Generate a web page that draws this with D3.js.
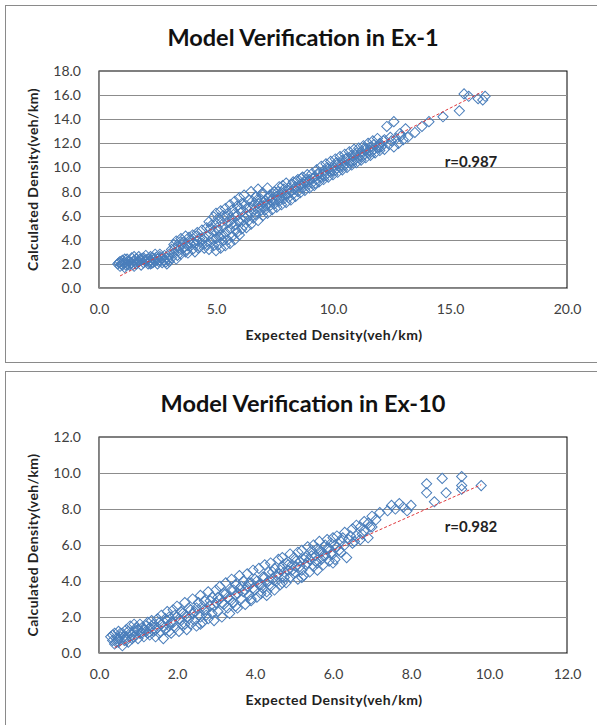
<!DOCTYPE html>
<html>
<head>
<meta charset="utf-8">
<script src="https://cdn.jsdelivr.net/npm/d3@7"></script>
<style>
  body { margin: 0; background: #fff; }
  svg { display: block; }
</style>
</head>
<body>
<svg id="chart" width="597" height="725"></svg>
<script>
const WIDTH = 597;
const HEIGHT = 725;

// chart texts
const titles = ['Model Verification in Ex-1', 'Model Verification in Ex-10'];
const rLabels = ['r=0.987', 'r=0.982'];
const xTitle = 'Expected Density(veh/km)';
const yTitle = 'Calculated Density(veh/km)';

// axis ticks
const ex1XTicks = [0, 5, 10, 15, 20];
const ex1YTicks = [0, 2, 4, 6, 8, 10, 12, 14, 16, 18];
const ex10XTicks = [0, 2, 4, 6, 8, 10, 12];
const ex10YTicks = [0, 2, 4, 6, 8, 10, 12];

// trend lines
const ex1Trend = [[0.9, 1.0], [16.4, 16.3]];
const ex10Trend = [[0.4, 0.3], [9.8, 9.35]];

// scatter points [expected, calculated]
const ex1Points = [
  [0.8,2.0],[0.9,1.8],[0.9,2.2],[1.0,1.9],[1.0,2.3],[1.1,2.1],[1.1,1.7],[1.2,2.0],[1.2,2.4],[1.3,1.9],
  [1.3,2.2],[1.4,2.1],[1.4,2.5],[1.5,1.8],[1.5,2.3],[1.6,2.0],[1.6,2.4],[1.7,2.2],[1.7,2.6],[1.8,1.9],
  [1.8,2.3],[1.9,2.1],[1.9,2.5],[2.0,2.2],[2.0,2.7],[2.1,2.0],[2.1,2.4],[2.2,2.3],[2.2,2.6],[2.3,2.1],
  [2.3,2.5],[2.4,2.2],[2.4,2.8],[2.5,2.4],[2.5,2.0],[2.6,2.6],[2.6,2.3],[2.7,2.5],[2.7,2.1],[2.8,2.7],
  [2.8,2.3],[2.9,2.5],[2.9,2.0],[3.0,2.2],[3.0,2.8],[1.05,2.05],[1.25,2.25],[1.45,1.95],[1.65,2.15],[1.85,2.45],
  [2.05,2.35],[2.25,2.05],[2.45,2.55],[2.65,2.45],[2.85,2.15],
  [0.85,2.1],[0.95,2.0],[1.15,1.9],[1.35,2.0],[1.55,2.1],[1.75,2.4],[1.95,2.3],[2.15,2.2],[2.35,2.4],[2.55,2.2],
  [2.75,2.3],[2.95,2.4],[1.1,2.4],[1.5,2.6],[2.2,2.0],[2.6,2.8],
  [3.1,2.5],[3.1,3.2],[3.2,2.9],[3.2,3.6],[3.3,2.4],[3.3,3.9],[3.4,3.1],[3.4,3.5],[3.5,2.8],[3.5,4.1],
  [3.6,3.3],[3.6,3.8],[3.7,3.0],[3.7,4.3],[3.8,3.5],[3.8,2.9],[3.9,3.7],[3.9,4.0],[4.0,3.2],[4.0,4.4],
  [4.1,3.6],[4.1,3.0],[4.2,3.9],[4.2,4.6],[4.3,3.4],[4.3,4.1],[4.4,3.7],[4.4,4.8],[4.5,3.3],[4.5,4.2],
  [3.25,3.3],[3.45,3.8],[3.65,3.4],[3.85,4.2],[4.05,3.8],[4.25,3.3],[4.45,4.0],[3.35,2.7],[3.75,3.2],[4.15,4.3],
  [4.6,3.6],[4.6,5.0],[4.7,3.2],[4.7,4.4],[4.7,5.5],[4.8,3.8],[4.8,5.2],[4.9,3.5],[4.9,4.7],[4.9,5.9],
  [5.0,3.1],[5.0,4.1],[5.0,5.4],[5.0,6.2],[5.1,3.6],[5.1,4.8],[5.1,5.8],[5.2,3.3],[5.2,4.4],[5.2,6.4],
  [5.3,3.9],[5.3,5.1],[5.3,6.0],[5.4,3.5],[5.4,4.6],[5.4,6.6],[5.5,4.0],[5.5,5.4],[5.5,6.2],[5.6,3.7],
  [5.6,4.9],[5.6,6.9],[5.7,4.3],[5.7,5.7],[5.7,6.5],[5.8,4.0],[5.8,5.2],[5.8,7.2],[5.9,4.6],[5.9,6.0],
  [5.9,6.8],[6.0,4.4],[6.0,5.5],[6.0,7.5],[6.1,4.9],[6.1,6.3],[6.1,7.0],[6.2,5.2],[6.2,5.9],[6.2,7.7],
  [6.3,5.0],[6.3,6.6],[6.4,5.6],[6.4,7.3],[6.5,5.3],[6.5,6.2],[6.5,8.0],
  [4.75,4.9],[4.85,4.1],[5.05,5.0],[5.15,4.2],[5.25,5.5],[5.35,4.3],[5.45,5.9],[5.65,5.3],[5.75,6.1],[5.85,4.8],
  [5.95,5.6],[6.05,6.6],[6.15,5.6],[6.25,6.9],[6.35,6.0],[6.45,6.7],
  [6.6,5.8],[6.6,6.9],[6.7,6.1],[6.7,7.6],[6.8,5.6],[6.8,7.0],[6.8,8.2],[6.9,6.4],[6.9,7.4],[7.0,6.0],
  [7.0,6.8],[7.0,7.9],[7.1,6.5],[7.1,7.3],[7.2,6.2],[7.2,7.0],[7.2,8.3],[7.3,6.8],[7.3,7.7],[7.4,6.5],
  [7.4,7.4],[7.5,7.0],[7.5,8.0],[7.6,6.7],[7.6,7.6],[7.7,7.2],[7.7,8.4],[7.8,6.9],[7.8,7.9],[7.9,7.4],
  [7.9,8.2],[8.0,7.1],[8.0,7.8],[8.0,8.7],[8.1,7.5],[8.1,8.3],[8.2,7.3],[8.2,8.0],[8.3,7.8],[8.3,8.8],
  [8.4,7.6],[8.4,8.4],[8.5,8.0],[8.5,9.0],[8.6,7.9],[8.6,8.6],[8.7,8.3],[8.7,9.2],[8.8,8.1],[8.8,8.8],
  [8.9,8.5],[8.9,9.4],[9.0,8.3],[9.0,9.0],
  [6.55,7.2],[6.65,6.5],[6.75,7.3],[6.85,6.7],[6.95,7.8],[7.05,7.1],[7.15,6.8],[7.25,7.5],[7.35,7.2],[7.45,7.8],
  [7.55,7.3],[7.65,8.0],[7.75,7.5],[7.85,8.5],[7.95,7.7],[8.15,7.9],[8.25,8.6],[8.35,8.2],[8.45,8.9],[8.55,8.4],
  [8.65,9.1],[8.75,8.6],[8.85,9.0],[8.95,8.8],
  [9.1,8.7],[9.1,9.5],[9.2,8.5],[9.2,9.2],[9.3,9.0],[9.3,9.8],[9.4,8.8],[9.4,9.5],[9.5,9.2],[9.5,10.1],
  [9.6,9.0],[9.6,9.7],[9.7,9.4],[9.7,10.3],[9.8,9.2],[9.8,9.9],[9.9,9.6],[9.9,10.5],[10.0,9.4],[10.0,10.1],
  [10.1,9.8],[10.1,10.7],[10.2,9.6],[10.2,10.3],[10.3,10.0],[10.3,10.9],[10.4,9.8],[10.4,10.6],[10.5,10.2],[10.5,11.1],
  [10.6,10.0],[10.6,10.8],[10.7,10.4],[10.7,11.3],[10.8,10.2],[10.8,11.0],[10.9,10.6],[10.9,11.5],[11.0,10.4],[11.0,11.2],
  [9.15,9.1],[9.35,9.5],[9.55,9.4],[9.75,10.0],[9.95,9.8],[10.15,10.4],[10.35,10.2],[10.55,10.7],[10.75,10.5],[10.95,11.1],
  [9.25,8.7],[9.65,9.3],[10.05,9.7],[10.45,10.1],[10.85,10.5],
  [11.1,10.8],[11.1,11.6],[11.2,10.6],[11.2,11.3],[11.3,11.0],[11.3,11.8],[11.4,10.8],[11.4,11.5],[11.5,11.2],[11.5,12.0],
  [11.6,11.0],[11.6,11.7],[11.7,11.4],[11.7,12.2],[11.8,11.2],[11.9,11.6],[11.9,12.4],[12.0,11.4],[12.0,12.0],[12.1,11.8],
  [12.2,11.5],[12.2,12.3],[12.3,13.4],[12.4,11.9],[12.5,12.2],[12.6,13.8],[12.6,11.7],[12.7,12.4],[12.8,12.0],[12.9,12.6],
  [13.0,12.3],[13.1,13.2],[13.2,12.5],
  [11.15,11.0],[11.35,11.6],[11.55,11.4],[11.75,11.9],[11.95,11.7],[12.15,12.2],[11.25,10.9],[11.65,11.3],[12.05,11.7],[12.45,12.5],
  [12.85,12.8],
  [13.5,12.9],[13.8,13.4],[14.1,13.8],[14.7,14.2],[15.4,14.7],[15.6,16.1],[15.8,15.9],[16.2,15.7],[16.4,15.6],[16.5,15.9]
];

const ex10Points = [
  [0.3,0.9],[0.35,0.7],[0.4,1.1],[0.4,0.5],[0.45,0.8],[0.5,1.2],[0.5,0.6],[0.55,0.9],[0.6,1.1],[0.6,0.4],
  [0.65,0.7],[0.7,1.3],[0.7,0.9],[0.75,0.6],[0.8,1.1],[0.8,1.5],[0.85,0.8],[0.9,1.2],[0.9,1.6],[0.95,1.0],
  [1.0,1.3],[1.0,0.8],[1.05,1.6],[1.1,1.1],[1.1,1.4],[1.15,0.9],[1.2,1.5],[1.2,1.2],[1.25,1.7],[1.3,1.0],
  [1.3,1.4],[1.35,1.8],[1.4,1.2],[1.4,1.6],[1.45,0.9],[1.5,1.4],[1.5,1.9],[1.55,1.1],
  [0.35,1.0],[0.45,0.6],[0.55,1.1],[0.65,0.9],[0.75,1.2],[0.85,1.0],[0.95,1.4],[1.05,1.1],[1.15,1.3],[1.25,1.1],
  [1.35,1.5],[1.45,1.3],[1.55,1.7],[0.5,0.8],[0.7,0.7],[0.9,0.9],
  [1.6,1.6],[1.6,2.1],[1.65,0.8],[1.7,1.3],[1.7,1.9],[1.75,2.3],[1.8,1.5],[1.8,2.0],[1.85,1.1],[1.9,1.7],
  [1.9,2.4],[1.95,1.4],[2.0,2.0],[2.0,2.6],[2.05,1.2],[2.1,1.8],[2.1,2.3],[2.15,1.5],[2.2,2.1],[2.2,2.8],
  [2.25,1.3],[2.3,1.9],[2.3,2.5],[2.35,1.6],[2.4,2.2],[2.4,3.0],[2.45,1.8],[2.5,2.5],[2.5,1.5],[2.55,2.8],
  [2.6,2.0],[2.6,3.2],[2.65,1.7],[2.7,2.4],[2.7,2.9],[2.75,2.1],[2.8,3.4],[2.8,1.9],[2.85,2.6],[2.9,3.1],
  [2.9,2.2],[2.95,1.8],[3.0,2.8],[3.0,3.5],
  [1.65,1.5],[1.75,1.8],[1.85,1.7],[1.95,2.1],[2.05,1.9],[2.15,2.2],[2.25,2.0],[2.35,2.4],[2.45,2.3],[2.55,2.1],
  [2.65,2.6],[2.75,2.4],[2.85,2.9],[2.95,2.6],[1.8,1.2],[2.2,1.6],[2.6,1.6],
  [3.05,2.3],[3.1,3.0],[3.1,3.7],[3.15,2.0],[3.2,2.7],[3.2,3.3],[3.25,3.9],[3.3,2.5],[3.3,3.1],[3.35,2.2],
  [3.4,3.5],[3.4,4.1],[3.45,2.8],[3.5,3.2],[3.5,3.8],[3.55,2.5],[3.6,3.6],[3.6,4.3],[3.65,3.0],[3.7,3.4],
  [3.7,4.0],[3.75,2.7],[3.8,3.7],[3.8,4.4],[3.85,3.2],[3.9,3.9],[3.9,2.9],[3.95,4.6],[4.0,3.5],[4.0,4.1],
  [4.05,3.1],[4.1,3.8],[4.1,4.7],[4.15,3.3],[4.2,4.2],[4.2,3.6],[4.25,4.9],[4.3,3.9],[4.3,3.2],[4.35,4.5],
  [4.4,3.7],[4.4,5.0],[4.45,4.1],[4.5,3.5],[4.5,4.7],[4.55,4.0],[4.6,5.2],[4.6,4.4],[4.65,3.8],[4.7,4.8],
  [4.7,5.3],[4.75,4.2],[4.8,3.9],[4.8,5.0],[4.85,4.6],[4.9,5.5],[4.9,4.2],[4.95,4.9],[5.0,4.4],[5.0,5.3],
  [3.05,3.1],[3.15,2.8],[3.25,3.3],[3.35,3.0],[3.45,3.5],[3.55,3.3],[3.65,3.7],[3.75,3.5],[3.85,3.9],[3.95,3.6],
  [4.05,4.0],[4.15,3.8],[4.25,4.2],[4.35,4.0],[4.45,4.5],[4.55,4.3],[4.65,4.6],[4.75,4.5],[4.85,4.9],[4.95,4.6],
  [3.5,2.6],[3.9,3.0],[4.3,3.4],[4.7,3.9],
  [5.05,4.8],[5.1,5.6],[5.1,4.1],[5.15,5.1],[5.2,4.6],[5.2,5.7],[5.25,4.3],[5.3,5.3],[5.3,4.9],[5.35,5.9],
  [5.4,4.5],[5.4,5.2],[5.45,5.7],[5.5,4.8],[5.5,6.0],[5.55,5.4],[5.6,5.0],[5.6,5.8],[5.65,6.2],[5.7,5.2],
  [5.7,5.6],[5.75,4.9],[5.8,6.0],[5.8,5.4],[5.85,6.3],[5.9,5.1],[5.9,5.8],[5.95,6.1],[6.0,5.5],[6.0,6.4],
  [6.05,5.2],[6.1,5.9],[6.1,6.5],[6.2,5.6],[6.2,6.2],[6.3,6.0],[6.3,6.7],[6.35,5.3],[6.4,6.3],[6.5,6.1],
  [6.5,6.9],[6.6,6.5],[6.6,7.1],[6.7,6.3],[6.7,7.0],[6.8,6.8],[6.8,7.3],[6.9,6.4],[6.9,7.2],[7.0,7.0],
  [7.0,7.6],[7.1,7.4],[7.2,7.8],
  [5.05,5.1],[5.15,4.8],[5.25,5.2],[5.35,5.0],[5.45,5.4],[5.55,5.1],[5.65,5.6],[5.75,5.4],[5.85,5.8],[5.95,5.5],
  [6.05,6.0],[6.15,5.7],[6.25,6.4],[6.45,6.5],[6.55,6.2],[6.75,6.6],[6.95,7.0],[5.2,4.2],[5.6,4.6],[6.0,5.0],
  [7.4,7.9],[7.5,8.2],[7.6,8.0],[7.7,8.3],[7.8,8.1],[7.9,7.9],[8.0,8.2],[8.4,9.4],[8.4,8.9],[8.6,8.4],
  [8.8,9.7],[8.9,8.9],[9.3,9.8],[9.3,9.3],[9.3,9.1],[9.8,9.3]
];

const COLOR_POINT = '#4a7ebb';
const COLOR_TREND = '#e0393e';
const COLOR_GRID = '#8c8c8c';
const COLOR_TEXT = '#404040';
const FONT = 'Lato, "Open Sans", sans-serif';

const svg = d3.select('#chart');

function drawPanel(opt) {
    const g = svg.append('g');

    // panel frame
    g.append('rect')
        .attr('x', 5.5)
        .attr('y', opt.top + 0.5)
        .attr('width', 620)
        .attr('height', opt.panelHeight)
        .attr('fill', '#fff')
        .attr('stroke', '#8a8a8a');

    const x = d3.scaleLinear().domain(opt.xDomain).range([99, 567]);
    const y = d3.scaleLinear().domain(opt.yDomain).range([opt.plotBottom, opt.plotTop]);

    // title
    g.append('text')
        .text(opt.title)
        .attr('x', 303)
        .attr('y', opt.top + 41)
        .attr('text-anchor', 'middle')
        .attr('font-family', FONT)
        .attr('font-weight', 'bold')
        .attr('font-size', 23.5)
        .attr('fill', '#111');

    // plot area border
    g.append('rect')
        .attr('x', x.range()[0])
        .attr('y', opt.plotTop)
        .attr('width', x.range()[1] - x.range()[0])
        .attr('height', opt.plotBottom - opt.plotTop)
        .attr('fill', 'none')
        .attr('stroke', '#000');

    // horizontal grid
    g.append('g')
        .selectAll('line')
        .data(opt.yTicks.slice(1, -1))
        .join('line')
        .attr('x1', x.range()[0])
        .attr('x2', x.range()[1])
        .attr('y1', d => Math.round(y(d)) + 0.5)
        .attr('y2', d => Math.round(y(d)) + 0.5)
        .attr('stroke', COLOR_GRID);

    // y axis
    const yAxis = g.append('g')
        .attr('transform', `translate(${x.range()[0]},0)`)
        .call(d3.axisLeft(y).tickValues(opt.yTicks).tickFormat(d3.format('.1f')).tickSize(0).tickPadding(18));
    yAxis.select('.domain').attr('stroke', COLOR_GRID);
    yAxis.selectAll('text')
        .attr('font-family', FONT)
        .attr('font-size', 14)
        .attr('fill', COLOR_TEXT);

    // x axis
    const xAxis = g.append('g')
        .attr('transform', `translate(0,${opt.plotBottom})`)
        .call(d3.axisBottom(x).tickValues(opt.xTicks).tickFormat(d3.format('.1f')).tickSize(0).tickPadding(16));
    xAxis.select('.domain').attr('stroke', COLOR_GRID);
    xAxis.selectAll('text')
        .attr('font-family', FONT)
        .attr('font-size', 14)
        .attr('fill', COLOR_TEXT);

    // axis titles
    g.append('text')
        .text(xTitle)
        .attr('x', 334)
        .attr('y', opt.plotBottom + 52)
        .attr('text-anchor', 'middle')
        .attr('font-family', FONT)
        .attr('font-weight', 'bold')
        .attr('font-size', 14)
        .attr('letter-spacing', 0.5)
        .attr('fill', '#222');

    g.append('text')
        .text(yTitle)
        .attr('transform', `translate(38,${(opt.plotTop + opt.plotBottom) / 2}) rotate(-90)`)
        .attr('text-anchor', 'middle')
        .attr('font-family', FONT)
        .attr('font-weight', 'bold')
        .attr('font-size', 14)
        .attr('letter-spacing', 0.4)
        .attr('fill', '#222');

    // points: hollow diamonds
    const diamond = d3.symbol().type(d3.symbolSquare).size(52);
    g.append('g')
        .selectAll('path')
        .data(opt.points)
        .join('path')
        .attr('d', diamond)
        .attr('transform', d => `translate(${x(d[0])},${y(d[1])}) rotate(45)`)
        .attr('fill', 'none')
        .attr('stroke', COLOR_POINT)
        .attr('stroke-width', 1);

    // trend line
    g.append('path')
        .attr('d', d3.line().x(d => x(d[0])).y(d => y(d[1]))(opt.trend))
        .attr('fill', 'none')
        .attr('stroke', COLOR_TREND)
        .attr('stroke-width', 1)
        .attr('stroke-dasharray', '3,2');

    // correlation label
    g.append('text')
        .text(opt.rLabel)
        .attr('x', 471)
        .attr('y', opt.rY)
        .attr('text-anchor', 'middle')
        .attr('dominant-baseline', 'central')
        .attr('font-family', FONT)
        .attr('font-weight', 'bold')
        .attr('font-size', 15)
        .attr('fill', '#222');
}

drawPanel({
    top: 5, panelHeight: 357,
    plotTop: 71, plotBottom: 288,
    xDomain: [0, 20], yDomain: [0, 18],
    xTicks: ex1XTicks, yTicks: ex1YTicks,
    points: ex1Points, trend: ex1Trend,
    title: titles[0], rLabel: rLabels[0], rY: 161
});

drawPanel({
    top: 371, panelHeight: 360,
    plotTop: 437, plotBottom: 653,
    xDomain: [0, 12], yDomain: [0, 12],
    xTicks: ex10XTicks, yTicks: ex10YTicks,
    points: ex10Points, trend: ex10Trend,
    title: titles[1], rLabel: rLabels[1], rY: 526
});
</script>
</body>
</html>
